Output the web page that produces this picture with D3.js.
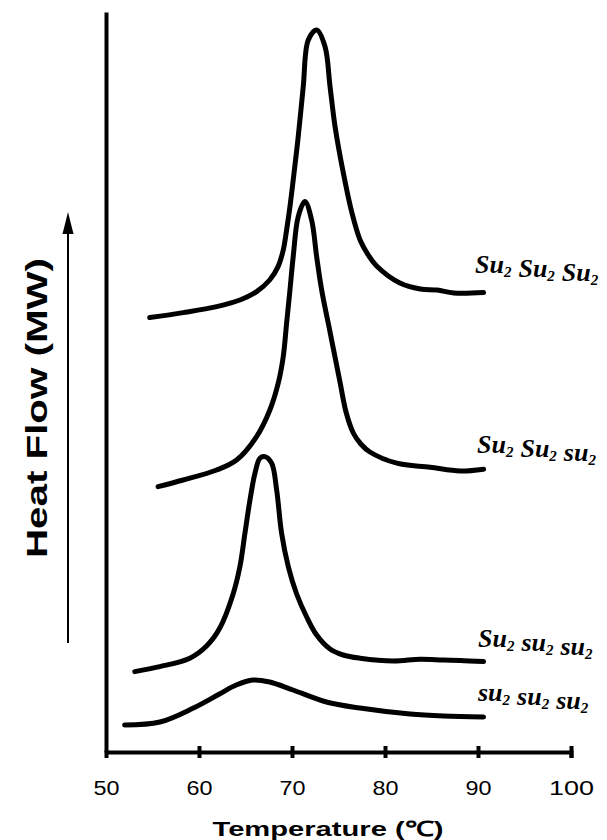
<!DOCTYPE html>
<meta charset="utf-8">
<script src="https://d3js.org/d3.v7.min.js"></script>
<style>
  body { margin: 0; background: #fff; }
  svg { display: block; }
  .tick text { font-family: "Liberation Sans", Arial, sans-serif; font-size: 20px; fill: #000; }
  .axis-title { font-family: "Liberation Sans", Arial, sans-serif; font-weight: bold; fill: #000; }
  .geno { font-family: "Liberation Serif", "Times New Roman", serif; font-style: italic; font-weight: bold; font-size: 26px; fill: #000; }
</style>
<div id="chart"></div>
<script>
// x ticks (temperature, C)
var xTicks = [50, 60, 70, 80, 90, 100]

// curve labels, top to bottom (each part gets a subscript 2)
var labels = [["Su", "Su", "Su"], ["Su", "Su", "su"], ["Su", "su", "su"], ["su", "su", "su"]]

// heat flow traces (arbitrary units, offset per trace)
var temp1 = [54.7, 58.3, 61.9, 64.4, 66.2, 67.6, 68.5, 69.06, 69.42, 69.78, 70.13, 70.67, 71.21, 71.75, 72.65, 73.55, 74.09, 74.63, 75.52, 76.42, 77.32, 78.2, 79.1, 81.6, 83.8, 85.6, 87.4, 90.6]
var flow1 = [21.72, 21.97, 22.27, 22.6, 23.02, 23.6, 24.27, 25.1, 26.1, 27.27, 28.6, 30.77, 33.27, 35.6, 36.1, 35.27, 33.27, 31.27, 28.95, 27.0, 25.6, 24.85, 24.3, 23.45, 23.15, 23.1, 22.95, 22.97]

var temp2 = [55.6, 58.3, 61.9, 64.04, 66.19, 67.62, 68.52, 69.06, 69.42, 69.78, 70.13, 70.67, 71.39, 72.11, 72.65, 73.19, 74.09, 75.16, 75.81, 76.59, 77.4, 78.38, 81.27, 84.85, 88.08, 90.6]
var flow2 = [13.27, 13.6, 14.1, 14.6, 15.77, 17.1, 18.44, 19.77, 21.44, 23.1, 24.77, 26.77, 27.52, 26.6, 24.77, 23.1, 21.0, 18.5, 17.0, 15.95, 15.4, 15.0, 14.44, 14.24, 14.05, 14.14]

var temp3 = [53.09, 55.78, 59.01, 60.81, 62.24, 63.67, 64.4, 64.94, 65.48, 66.02, 66.55, 67.09, 67.81, 68.35, 68.88, 69.6, 70.5, 71.58, 72.65, 74.09, 75.5, 77.32, 80.9, 83.78, 86.28, 88.08, 90.6]
var flow3 = [4.02, 4.27, 4.69, 5.3, 6.2, 7.9, 9.27, 10.94, 12.6, 13.94, 14.69, 14.77, 14.44, 13.1, 10.94, 9.27, 7.9, 6.75, 5.85, 5.15, 4.85, 4.69, 4.55, 4.64, 4.6, 4.58, 4.52]

var temp4 = [52.0, 55.8, 59.4, 62.2, 64.0, 65.8, 67.6, 70.1, 73.7, 77.3, 82.7, 86.3, 90.6]
var flow4 = [1.35, 1.5, 2.2, 2.9, 3.35, 3.6, 3.5, 3.1, 2.5, 2.2, 1.9, 1.8, 1.75]

var traces = [[temp1, flow1], [temp2, flow2], [temp3, flow3], [temp4, flow4]]

var width = 607, height = 840

var svg = d3.select("#chart").append("svg")
  .attr("width", width)
  .attr("height", height)

var x = d3.scaleLinear().domain([50, 100]).range([106, 571])
var y = d3.scaleLinear().domain([0, 37]).range([752, 12])

// x axis
var xAxis = svg.append("g")
  .attr("transform", "translate(0," + y(0) + ")")
  .call(d3.axisBottom(x).tickValues(xTicks).tickSizeOuter(0).tickSize(6).tickPadding(30))

xAxis.select(".domain").attr("stroke", "#000").attr("stroke-width", 4)
xAxis.selectAll(".tick line")
  .attr("y1", -6).attr("y2", 6)
  .attr("stroke", "#000").attr("stroke-width", 4)
  .attr("display", function(d) { return d == 50 ? "none" : null })
xAxis.selectAll(".tick text")
  .attr("dy", "0.35em")
  .attr("textLength", function(d) { return d >= 100 ? 45 : 26 })
  .attr("lengthAdjust", "spacingAndGlyphs")

// y axis, no ticks
var yAxis = svg.append("g")
  .attr("transform", "translate(" + x(50) + ",0)")
  .call(d3.axisLeft(y).tickValues([]).tickSizeOuter(0))
yAxis.select(".domain").attr("stroke", "#000").attr("stroke-width", 4)

// axis titles
svg.append("text")
  .attr("class", "axis-title")
  .attr("x", 328)
  .attr("y", 836)
  .attr("text-anchor", "middle")
  .style("font-size", "21px")
  .attr("textLength", 231)
  .attr("lengthAdjust", "spacingAndGlyphs")
  .text("Temperature (\u2103)")

svg.append("text")
  .attr("class", "axis-title")
  .attr("transform", "translate(47,408) rotate(-90)")
  .attr("text-anchor", "middle")
  .style("font-size", "30px")
  .attr("textLength", 300)
  .attr("lengthAdjust", "spacingAndGlyphs")
  .text("Heat Flow (MW)")

// arrow beside y title
svg.append("line")
  .attr("x1", 68).attr("x2", 68)
  .attr("y1", 643).attr("y2", 228)
  .attr("stroke", "#000").attr("stroke-width", 2)
svg.append("path")
  .attr("d", "M68,212 L62.5,234 L73.5,234 Z")
  .attr("fill", "#000")

// traces
var line = d3.line()
  .x(function(d) { return x(d[0]) })
  .y(function(d) { return y(d[1]) })
  .curve(d3.curveCatmullRom.alpha(0.5))

traces.forEach(function(t) {
  var pts = t[0].map(function(v, i) { return [v, t[1][i]] })
  svg.append("path")
    .datum(pts)
    .attr("d", line)
    .attr("fill", "none")
    .attr("stroke", "#000")
    .attr("stroke-width", 5)
    .attr("stroke-linecap", "round")
    .attr("stroke-linejoin", "round")
})

// genotype labels
var labelY = [273, 453, 647, 701]
var labelX = [475, 477, 478, 478]

labels.forEach(function(parts, i) {
  var t = svg.append("text")
    .attr("class", "geno")
    .attr("x", labelX[i])
    .attr("y", labelY[i])
  parts.forEach(function(p, j) {
    t.append("tspan").attr("dx", j == 0 ? 0 : 7).text(p)
    t.append("tspan").attr("dy", 4).style("font-size", "15px").text("2")
    t.append("tspan").attr("dy", -4).text("")
  })
})
</script>
